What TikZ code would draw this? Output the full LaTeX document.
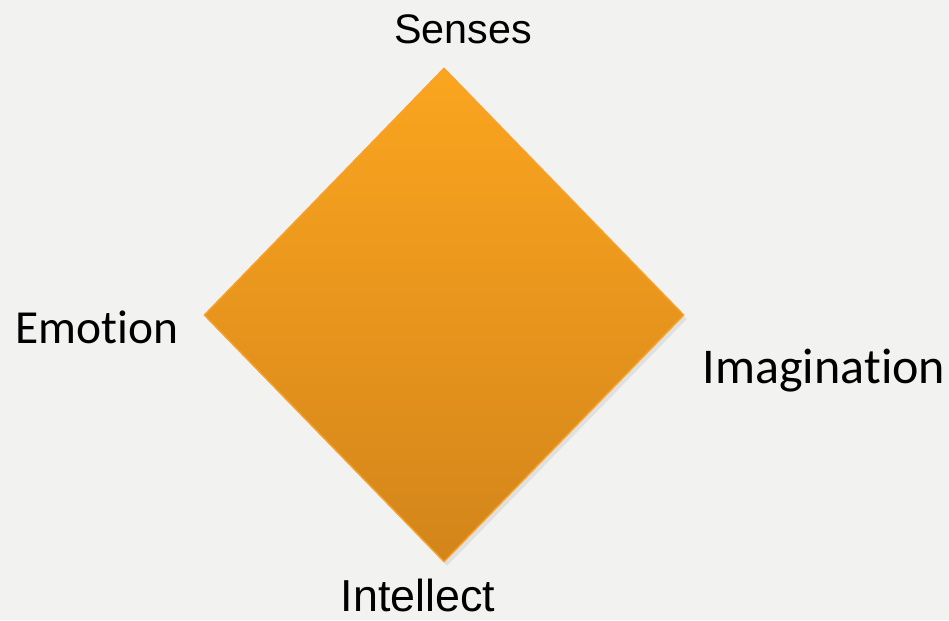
\documentclass[tikz,border=0pt]{standalone}
\usepackage{fontspec}
\setmainfont[Ligatures=NoCommon]{Carlito}
\newfontfamily\arialfont{Liberation Sans}
\usepackage{xcolor}
\usetikzlibrary{shapes.geometric, positioning}

\definecolor{bggray}{HTML}{F2F2F1}
\definecolor{orangetop}{HTML}{FBA51F}
\definecolor{orangebot}{HTML}{D3851A}
\definecolor{orangeline}{HTML}{F9A12A}

\begin{document}
\begin{tikzpicture}[
    x=0.02cm, y=-0.02cm,
    rhombus/.style={diamond, draw=orangeline, line width=0.8pt, minimum width=9.6cm, minimum height=9.88cm, inner sep=0pt, top color=orangetop, bottom color=orangebot, shading angle=0},
    label/.style={font=\fontsize{27}{30}\selectfont, text=black, anchor=base, inner sep=0pt}
]
% Background
\fill[bggray] (0,0) rectangle (949,620);
\useasboundingbox (0,0) rectangle (949,620);

% Shadow
\node[diamond, fill=black!25, minimum width=9.6cm, minimum height=9.88cm, inner sep=0pt, opacity=0.35] (shadow) at (447,319) {};

% Diamond
\node[rhombus] (core) at (444,315) {};

% Labels
\node[label, font=\arialfont\fontsize{23.5}{26}\selectfont] (senses) at (463,43) {Senses};
\node[label] (emotion) at (97,343) {Emotion};
\node[label, font=\fontsize{28.5}{31}\selectfont] (imagination) at (824,383) {Imagination};
\node[label, font=\arialfont\fontsize{25.5}{28}\selectfont] (intellect) at (418,611) {Intellect};
\end{tikzpicture}
\end{document}
